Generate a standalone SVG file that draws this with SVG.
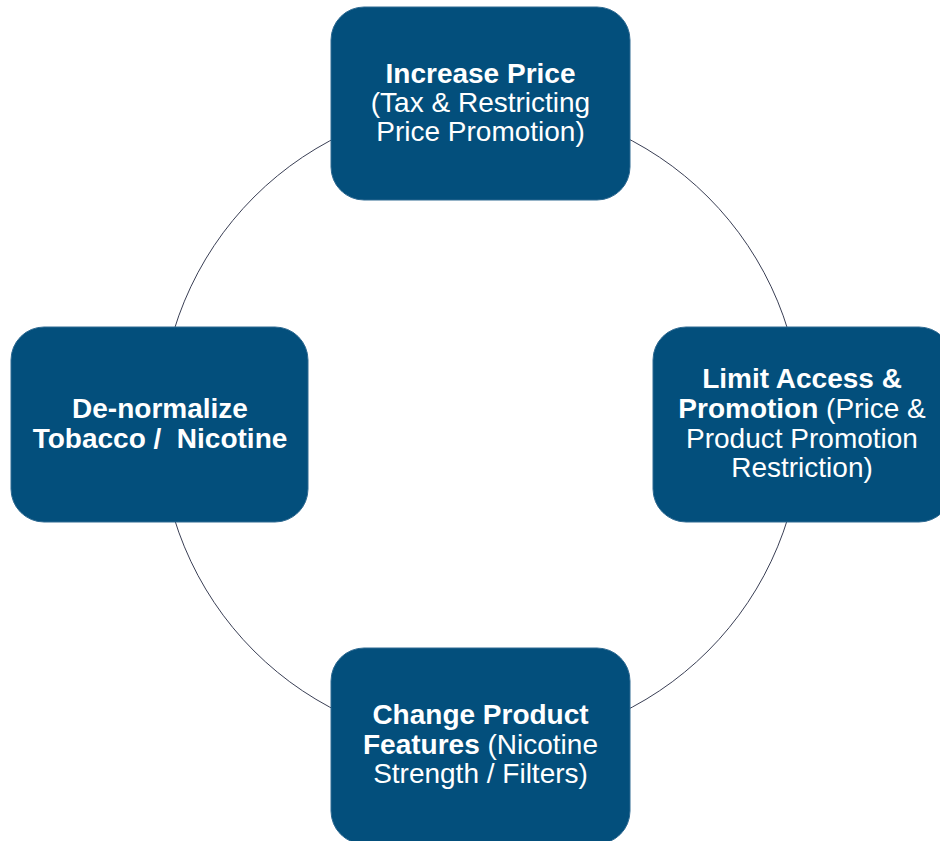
<svg xmlns="http://www.w3.org/2000/svg" width="940" height="841" viewBox="0 0 940 841">
<style>
.box{fill:#034f7c;stroke:#2f6a92;stroke-width:1}
.t{font-family:"Liberation Sans",Arial,sans-serif;font-size:28px;fill:#ffffff;text-anchor:middle;white-space:pre}
.b{font-weight:bold}
.ring{fill:none;stroke:#3a3f55;stroke-width:1}
</style>
<rect width="940" height="841" fill="#ffffff"/>
<g id="connectors">
<circle class="ring" cx="481" cy="424" r="321"/>
</g>
<g id="node-increase-price">
<rect class="box" x="331" y="7" width="299" height="193" rx="33"/>
<text class="t" x="480.5" y="83"><tspan class="b">Increase Price</tspan></text>
<text class="t" x="480.5" y="112">(Tax &amp; Restricting</text>
<text class="t" x="480.5" y="141">Price Promotion)</text>
</g>
<g id="node-limit-access">
<rect class="box" x="653" y="327" width="299" height="195" rx="33"/>
<text class="t" x="802" y="388"><tspan class="b">Limit Access &amp;</tspan></text>
<text class="t" x="802" y="418"><tspan class="b">Promotion</tspan> (Price &amp;</text>
<text class="t" x="802" y="448">Product Promotion</text>
<text class="t" x="802" y="477">Restriction)</text>
</g>
<g id="node-denormalize">
<rect class="box" x="11" y="327" width="297" height="195" rx="33"/>
<text class="t b" x="160" y="418">De-normalize</text>
<text class="t b" x="160" y="448">Tobacco /  Nicotine</text>
</g>
<g id="node-change-product">
<rect class="box" x="331" y="648" width="299" height="196" rx="33"/>
<text class="t" x="480.5" y="724"><tspan class="b">Change Product</tspan></text>
<text class="t" x="480.5" y="754"><tspan class="b">Features</tspan> (Nicotine</text>
<text class="t" x="480.5" y="783">Strength / Filters)</text>
</g>
</svg>
